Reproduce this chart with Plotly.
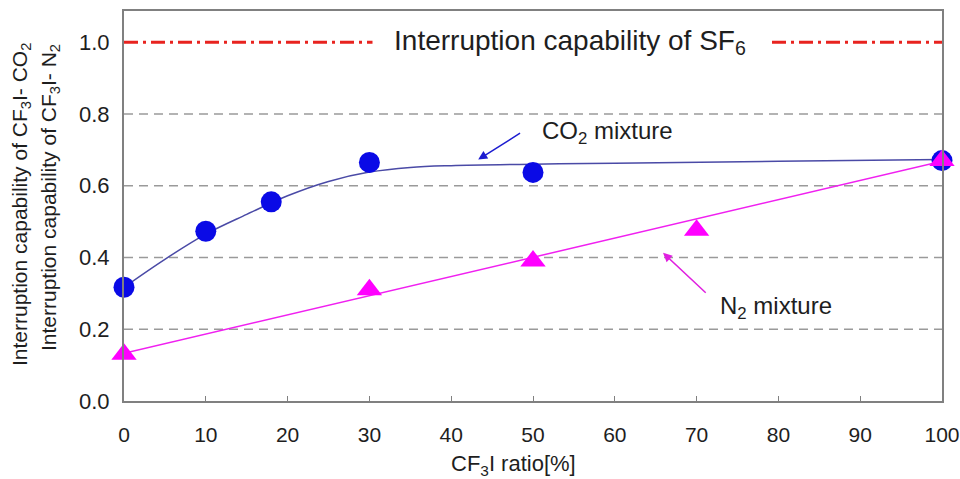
import plotly.graph_objects as go

# Measured points
co2_ratio = [0, 10, 18, 30, 50, 100]
co2_capability = [0.317, 0.473, 0.555, 0.665, 0.637, 0.67]

n2_ratio = [0, 30, 50, 70, 100]
n2_capability = [0.13, 0.31, 0.39, 0.476, 0.67]

# Fitted trend for the CO2 mixture
co2_fit_ratio = [0, 5, 10, 15, 20, 25, 30, 35, 40, 50, 60, 80, 100]
co2_fit_capability = [0.317, 0.395, 0.465, 0.52, 0.572, 0.612, 0.638, 0.651, 0.656, 0.660, 0.663, 0.668, 0.673]

# Linear trend for the N2 mixture
n2_fit_ratio = [0, 100]
n2_fit_capability = [0.133, 0.668]

# SF6 reference level
sf6_ratio = [0, 100]
sf6_capability = [1.0, 1.0]

x_ticks = [0, 10, 20, 30, 40, 50, 60, 70, 80, 90, 100]
y_ticks = [0.0, 0.2, 0.4, 0.6, 0.8, 1.0]
y_tick_text = ["0.0", "0.2", "0.4", "0.6", "0.8", "1.0"]
grid_levels = [0.2, 0.4, 0.6, 0.8]

FONT = "Arial, Liberation Sans, sans-serif"
TXT = "#1e1e1e"

fig = go.Figure()

# dashed horizontal guide lines
for g in grid_levels:
    fig.add_trace(go.Scatter(
        x=[0, 100], y=[g, g], mode="lines",
        line=dict(color="#9a9a9a", width=1.5, dash="9px,6px"),
        hoverinfo="skip", showlegend=False))

fig.add_trace(go.Scatter(
    x=sf6_ratio, y=sf6_capability, mode="lines",
    line=dict(color="#e8231f", width=3, dash="14px,5px,3px,5px"),
    hoverinfo="skip", showlegend=False))

fig.add_trace(go.Scatter(
    x=co2_fit_ratio, y=co2_fit_capability, mode="lines",
    line=dict(color="#4a4aa6", width=1.5, shape="spline", smoothing=1.0),
    hoverinfo="skip", showlegend=False))

fig.add_trace(go.Scatter(
    x=n2_fit_ratio, y=n2_fit_capability, mode="lines",
    line=dict(color="#f020f0", width=1.5),
    hoverinfo="skip", showlegend=False))

fig.add_trace(go.Scatter(
    x=co2_ratio, y=co2_capability, mode="markers", name="CO2 mixture",
    marker=dict(symbol="circle", size=21, color="#0a0ae6"),
    cliponaxis=False, showlegend=False))

fig.add_trace(go.Scatter(
    x=n2_ratio, y=n2_capability, mode="markers", name="N2 mixture",
    marker=dict(symbol="triangle-up", size=22, color="#ff00ff"),
    cliponaxis=False, showlegend=False))

annotations = [
    dict(x=54.5, y=1.0, xref="x", yref="y", showarrow=False,
         text="Interruption capability of SF<sub>6</sub>",
         font=dict(family=FONT, size=28, color=TXT),
         bgcolor="white", width=392, height=34),
    dict(x=50.9, y=0.747, xref="x", yref="y", showarrow=False, xanchor="left",
         text="CO<sub>2</sub> mixture", font=dict(family=FONT, size=24, color=TXT)),
    dict(x=72.6, y=0.261, xref="x", yref="y", showarrow=False, xanchor="left",
         text="N<sub>2</sub> mixture", font=dict(family=FONT, size=24, color=TXT)),
    dict(x=43.3, y=0.673, ax=48.6, ay=0.749, xref="x", yref="y", axref="x", ayref="y",
         showarrow=True, arrowhead=2, arrowsize=1.2, arrowwidth=1.5, arrowcolor="#1c1cd0",
         text=""),
    dict(x=65.9, y=0.413, ax=71.3, ay=0.298, xref="x", yref="y", axref="x", ayref="y",
         showarrow=True, arrowhead=2, arrowsize=1.2, arrowwidth=1.5, arrowcolor="#e020e0",
         text=""),
    dict(x=21, y=205, xref="paper", yref="paper", showarrow=False, textangle=-90,
         text="Interruption capability of CF<sub>3</sub>I- CO<sub>2</sub>",
         font=dict(family=FONT, size=21, color=TXT)),
    dict(x=50, y=198, xref="paper", yref="paper", showarrow=False, textangle=-90,
         text="Interruption capability of CF<sub>3</sub>I- N<sub>2</sub>",
         font=dict(family=FONT, size=21, color=TXT)),
    dict(x=513, y=465, xref="paper", yref="paper", showarrow=False,
         text="CF<sub>3</sub>I ratio[%]",
         font=dict(family=FONT, size=22, color=TXT)),
]

# convert the pixel-positioned titles into paper coordinates
L, R, T, B = 124, 18, 11, 78
W, H = 960, 479
pw, ph = W - L - R, H - T - B
for a in annotations:
    if a.get("xref") == "paper":
        a["x"] = (a["x"] - L) / pw
        a["y"] = (H - B - a["y"]) / ph
        a["xanchor"] = "center"
        a["yanchor"] = "middle"

fig.update_layout(
    width=W, height=H,
    margin=dict(l=L, r=R, t=T, b=B, autoexpand=False),
    paper_bgcolor="white", plot_bgcolor="white",
    font=dict(family=FONT, color=TXT),
    annotations=annotations,
    showlegend=False,
)

fig.update_xaxes(
    range=[0, 100], tickvals=x_ticks, ticks="inside", ticklen=5,
    tickcolor="#808080", tickwidth=1, automargin=False,
    showline=True, linecolor="#808080", linewidth=2, mirror=True,
    showgrid=False, zeroline=False, ticklabelstandoff=14,
    ticklabeloverflow="allow",
    tickfont=dict(family=FONT, size=21, color=TXT),
)
fig.update_yaxes(
    range=[0, 1.087], tickvals=y_ticks, ticktext=y_tick_text, ticks="",
    automargin=False,
    showline=True, linecolor="#808080", linewidth=2, mirror=True,
    showgrid=False, zeroline=False, ticklabelstandoff=8,
    tickfont=dict(family=FONT, size=22, color=TXT),
)

fig.write_html("out.html")
